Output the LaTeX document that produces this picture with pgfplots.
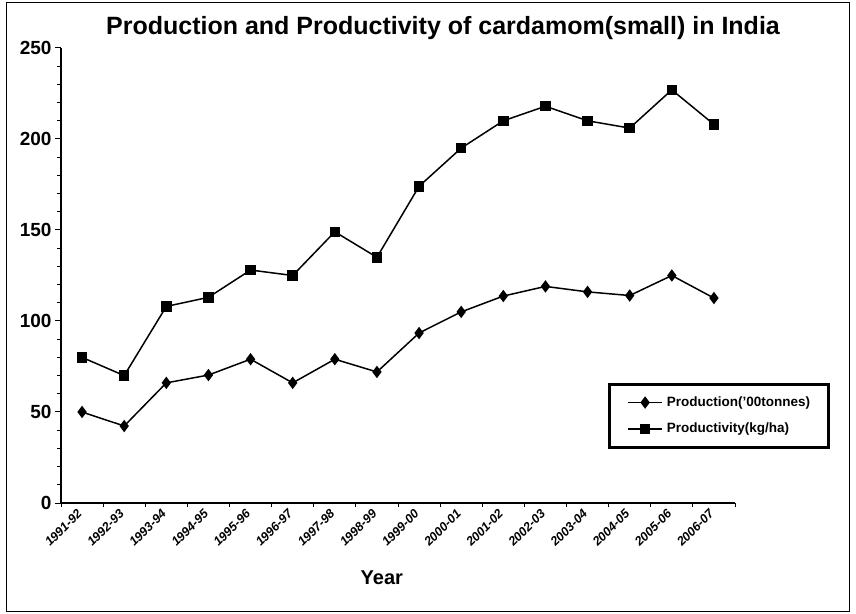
\documentclass[border=0pt]{standalone}
\usepackage{pgfplots}
\pgfplotsset{compat=1.18}
\usepackage{fontspec}
\setmainfont{Liberation Sans}
\begin{document}
\begin{tikzpicture}[x=1pt,y=1pt]
\path[use as bounding box] (0,0) rectangle (856,613);
\draw[line width=1pt] (6,1.5) rectangle (849.5,610.5);
\node[font=\fontsize{25}{29}\selectfont\bfseries] at (443,585) {Production and Productivity of cardamom(small) in India};
\begin{axis}[
  at={(61pt,110pt)}, anchor=south west,
  scale only axis, width=674pt, height=455pt,
  xmin=-0.5, xmax=15.5, ymin=0, ymax=250,
  axis x line*=bottom, axis y line*=left,
  axis line style={-, line width=1.2pt},
  tick align=outside,
  xtick={0,...,15},
  xticklabels={1991-92,1992-93,1993-94,1994-95,1995-96,1996-97,1997-98,1998-99,1999-00,2000-01,2001-02,2002-03,2003-04,2004-05,2005-06,2006-07},
  major x tick style={draw=none},
  minor xtick={-0.5,0.5,...,15.5},
  ytick={0,50,...,250},
  minor y tick num=4,
  major tick length=6pt, minor tick length=4pt,
  every tick/.style={black, line width=1pt},
  /pgf/number format/assume math mode=true,
  yticklabel style={font=\fontsize{19}{22}\selectfont\bfseries},
  xticklabel style={rotate=45, anchor=east, font=\fontsize{12.5}{14}\selectfont\bfseries\itshape},
  xlabel={Year},
  every axis x label/.style={at={(axis description cs:0.476,0)}, yshift=-75pt, anchor=center, font=\fontsize{20}{23}\selectfont\bfseries},
  legend style={at={(0.84,0.238)}, anchor=north west, draw=none, fill=none,
    font=\fontsize{13.5}{16}\selectfont\bfseries, row sep=11pt, inner sep=0pt,
    /tikz/every odd column/.style={column sep=2pt}},
  legend cell align=left,
  legend image code/.code={\draw[mark repeat=2,mark phase=2] plot coordinates {(0pt,0pt) (17pt,0pt) (34pt,0pt)};},
]
\addplot[black, line width=1.5pt, mark=diamond*, mark size=5pt] coordinates {
(0,50) (1,42.3) (2,66) (3,70.3) (4,79) (5,66) (6,79) (7,72) (8,93.4) (9,105) (10,113.7) (11,119) (12,116) (13,114) (14,125) (15,112.6)};
\addlegendentry{Production('00tonnes)}
\addplot[black, line width=1.5pt, mark=square*, mark size=4.5pt] coordinates {
(0,80) (1,70) (2,108) (3,113) (4,128) (5,125) (6,149) (7,135) (8,174) (9,195) (10,210) (11,218) (12,210) (13,206) (14,227) (15,208)};
\addlegendentry{Productivity(kg/ha)}
\end{axis}
\draw[line width=3pt] (609,165) rectangle (828,228);
\end{tikzpicture}
\end{document}
